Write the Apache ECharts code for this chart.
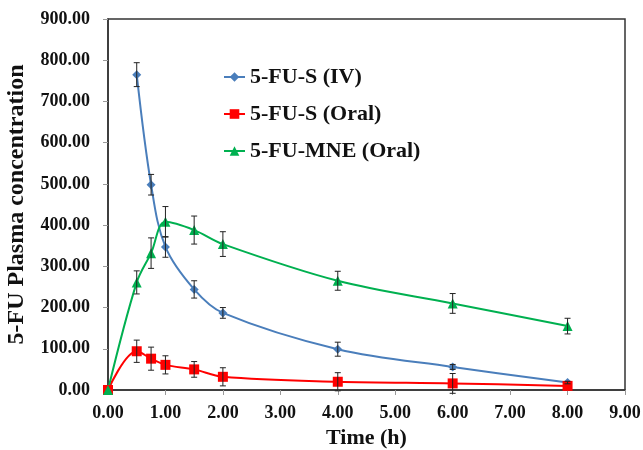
<!DOCTYPE html>
<html>
<head>
<meta charset="utf-8">
<script src="https://cdn.jsdelivr.net/npm/echarts@6/dist/echarts.min.js"></script>
<style>html,body{margin:0;padding:0;background:#fff;}#c{width:643px;height:450px;}</style>
</head>
<body>
<div id="c"></div>
<script>
var timeIV = [0.5, 0.75, 1, 1.5, 2, 4, 6, 8];
var ivValues = [765, 498, 347, 244, 187, 99, 56, 18];
var ivErr = [29, 25, 25, 21, 13, 17, 6, 3];

var timeOral = [0, 0.5, 0.75, 1, 1.5, 2, 4, 6, 8];
var oralValues = [0, 94, 76, 61, 50, 32, 20, 16, 10];
var oralErr = [0, 27, 28, 22, 19, 22, 22, 24, 0];

var mneValues = [0, 261, 332, 408, 388, 354, 265, 210, 155];
var mneErr = [0, 28, 37, 37, 34, 30, 23, 24, 19];

var xTicks = [0, 1, 2, 3, 4, 5, 6, 7, 8, 9];
var seriesNames = ['5-FU-S (IV)', '5-FU-S (Oral)', '5-FU-MNE (Oral)'];
var colors = ['#4A7EBB', '#FF0000', '#00B050'];

function pairs(xs, ys) { return xs.map(function (x, i) { return [x, ys[i]]; }); }
function errs(xs, ys, es) {
  var out = [];
  xs.forEach(function (x, i) { if (es[i] > 0) out.push([x, ys[i] - es[i], ys[i] + es[i]]); });
  return out;
}
function errRender(params, api) {
  var x = api.value(0), lo = api.value(1), hi = api.value(2);
  var p1 = api.coord([x, lo]), p2 = api.coord([x, hi]);
  var w = 3, st = { stroke: '#222', lineWidth: 1 };
  return { type: 'group', children: [
    { type: 'line', shape: { x1: p1[0], y1: p1[1], x2: p2[0], y2: p2[1] }, style: st },
    { type: 'line', shape: { x1: p1[0] - w, y1: p1[1], x2: p1[0] + w, y2: p1[1] }, style: st },
    { type: 'line', shape: { x1: p2[0] - w, y1: p2[1], x2: p2[0] + w, y2: p2[1] }, style: st }
  ] };
}

var font = 'Liberation Serif, Times New Roman, serif';
var chart = echarts.init(document.getElementById('c'), null, { renderer: 'canvas' });
chart.setOption({
  animation: false,
  backgroundColor: '#fff',
  grid: { left: 108, right: 18, top: 19, bottom: 60, outerBoundsMode: 'none', containLabel: false,
    show: true, borderColor: '#333', borderWidth: 1.5, backgroundColor: 'transparent' },
  legend: {
    data: seriesNames,
    orient: 'vertical',
    left: 218, top: 61,
    itemWidth: 21, itemHeight: 12, itemGap: 15,
    textStyle: { fontFamily: font, fontWeight: 'bold', fontSize: 22, color: '#111' }
  },
  xAxis: {
    type: 'value', min: xTicks[0], max: xTicks[xTicks.length - 1], interval: 1,
    name: 'Time (h)', nameLocation: 'middle', nameGap: 36,
    nameTextStyle: { fontFamily: font, fontWeight: 'bold', fontSize: 22, color: '#111' },
    axisLine: { lineStyle: { color: '#333', width: 1.5 } },
    axisTick: { show: true, length: 5, lineStyle: { color: '#999' } },
    axisLabel: { fontFamily: font, fontWeight: 'bold', fontSize: 18, color: '#111', margin: 14, formatter: function (v) { return v.toFixed(2); } },
    splitLine: { show: false }
  },
  yAxis: {
    type: 'value', min: 0, max: 900, interval: 100,
    name: '5-FU Plasma concentration', nameLocation: 'middle', nameGap: 79,
    nameTextStyle: { fontFamily: font, fontWeight: 'bold', fontSize: 24, color: '#111' },
    axisLine: { show: true, lineStyle: { color: '#333', width: 1.5 } },
    axisTick: { show: true, length: 5, lineStyle: { color: '#999' } },
    axisLabel: { fontFamily: font, fontWeight: 'bold', fontSize: 18, color: '#111', margin: 18, formatter: function (v) { return v.toFixed(2); } },
    splitLine: { show: false }
  },
  series: [
    { name: seriesNames[0], type: 'line', data: pairs(timeIV, ivValues), smooth: 0.35, symbol: 'diamond', symbolSize: 9,
      lineStyle: { color: colors[0], width: 2 }, itemStyle: { color: colors[0] }, z: 3 },
    { name: seriesNames[1], type: 'line', data: pairs(timeOral, oralValues), smooth: 0.35, symbol: 'rect', symbolSize: 10,
      lineStyle: { color: colors[1], width: 2 }, itemStyle: { color: colors[1] }, z: 3 },
    { name: seriesNames[2], type: 'line', data: pairs(timeOral, mneValues), smooth: 0.35, symbol: 'triangle', symbolSize: 10,
      lineStyle: { color: colors[2], width: 2 }, itemStyle: { color: colors[2] }, z: 3 },
    { type: 'custom', renderItem: errRender, data: errs(timeIV, ivValues, ivErr), encode: { x: 0, y: [1, 2] }, z: 5, silent: true },
    { type: 'custom', renderItem: errRender, data: errs(timeOral, oralValues, oralErr), encode: { x: 0, y: [1, 2] }, z: 5, silent: true },
    { type: 'custom', renderItem: errRender, data: errs(timeOral, mneValues, mneErr), encode: { x: 0, y: [1, 2] }, z: 5, silent: true }
  ]
});
</script>
</body>
</html>
